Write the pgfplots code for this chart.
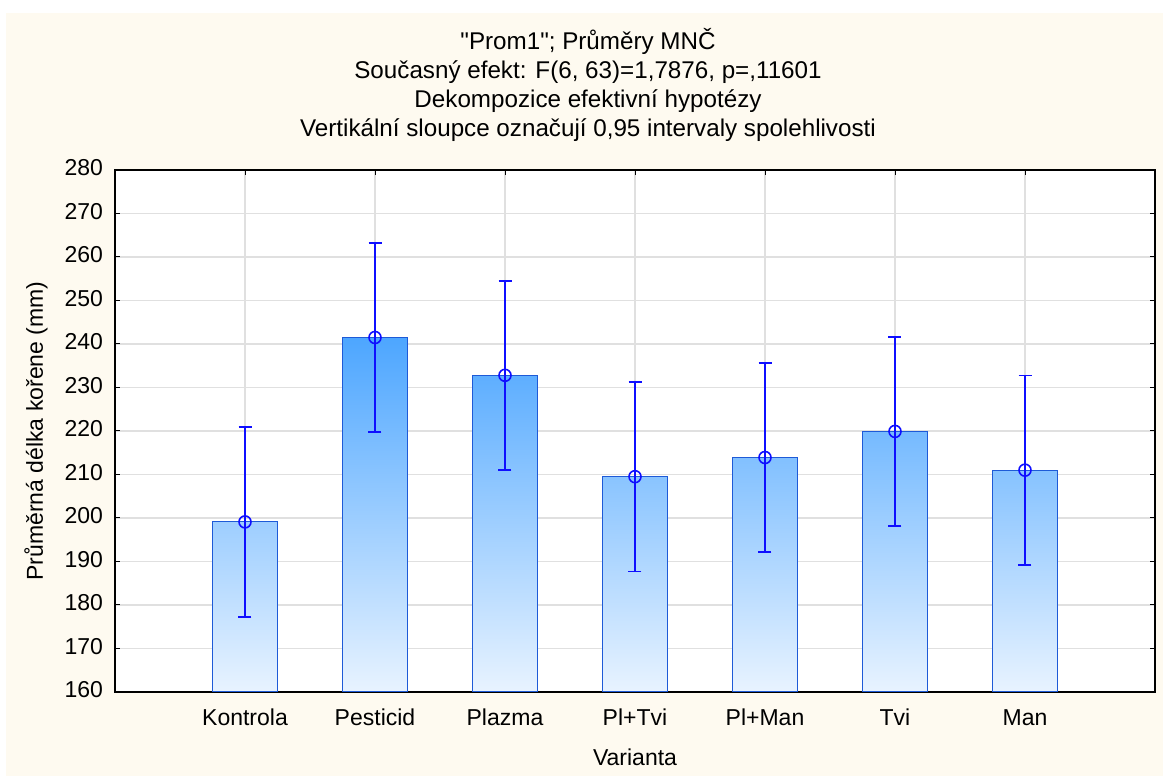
\documentclass[border=0pt]{standalone}
\usepackage{fontspec}
\setmainfont{Liberation Sans}[Ligatures=TeXOff]
\usepackage{pgfplots}
\pgfplotsset{compat=1.18}
\usepackage{pgfplotstable}

\definecolor{paper}{RGB}{254,250,240}
\definecolor{gridgray}{RGB}{224,224,224}
\definecolor{barDark}{RGB}{77,166,255}
\definecolor{barLight}{RGB}{232,243,255}
\definecolor{barEdge}{RGB}{30,90,215}
\definecolor{ciBlue}{RGB}{15,15,255}

% least-squares means and half-widths of the 0.95 confidence intervals
\pgfplotstableread{
x mean ci
0 199.1 21.8
1 241.5 21.8
2 232.8 21.75
3 209.5 21.8
4 213.9 21.75
5 219.9 21.8
6 211.0 21.75
}\lsmeans

% top shade of each bar: share of the dark blue, grows with the bar height
\colorlet{topA}{barDark!48!barLight}
\colorlet{topB}{barDark!100!barLight}
\colorlet{topC}{barDark!89!barLight}
\colorlet{topD}{barDark!61!barLight}
\colorlet{topE}{barDark!66!barLight}
\colorlet{topF}{barDark!74!barLight}
\colorlet{topG}{barDark!63!barLight}

\pgfplotsset{meanbar/.style={draw=barEdge, line width=0.5pt, top color=#1, bottom color=barLight}}

\begin{document}
\begin{tikzpicture}
\fill[white] (0,0) rectangle (581.5pt,388pt);
\fill[paper] (3pt,0) rectangle (581.5pt,381.5pt);
\begin{axis}[
  at={(57.5pt,42pt)}, anchor=south west,
  scale only axis, width=520pt, height=261pt,
  xmin=-1, xmax=7, ymin=160, ymax=280,
  xtick={0,...,6},
  xticklabels={Kontrola,Pesticid,Plazma,Pl+Tvi,Pl+Man,Tvi,Man},
  ytick={160,170,...,280},
  tick align=inside, major tick length=2.5pt,
  tick style={black, line width=0.5pt},
  grid=major, major grid style={gridgray, line width=0.6pt},
  axis line style={black, line width=1pt},
  axis background/.style={fill=white},
  /pgf/number format/assume math mode=true,
  typeset ticklabels with strut,
  tick label style={font=\fontsize{11.5}{14}\selectfont},
  yticklabel style={xshift=-2.5pt},
  xticklabel style={yshift=-3.2pt},
]
\addplot[meanbar=topA] coordinates {(-0.25,160) (-0.25,199.1) (0.25,199.1) (0.25,160)} -- cycle;
\addplot[meanbar=topB] coordinates {(0.75,160) (0.75,241.5) (1.25,241.5) (1.25,160)} -- cycle;
\addplot[meanbar=topC] coordinates {(1.75,160) (1.75,232.8) (2.25,232.8) (2.25,160)} -- cycle;
\addplot[meanbar=topD] coordinates {(2.75,160) (2.75,209.5) (3.25,209.5) (3.25,160)} -- cycle;
\addplot[meanbar=topE] coordinates {(3.75,160) (3.75,213.9) (4.25,213.9) (4.25,160)} -- cycle;
\addplot[meanbar=topF] coordinates {(4.75,160) (4.75,219.9) (5.25,219.9) (5.25,160)} -- cycle;
\addplot[meanbar=topG] coordinates {(5.75,160) (5.75,211.0) (6.25,211.0) (6.25,160)} -- cycle;
\addplot[ciBlue, only marks, mark=o, mark size=3pt, mark options={line width=0.8pt},
  error bars/.cd, y dir=both, y explicit,
  error bar style={ciBlue, line width=0.9pt},
  error mark options={ciBlue, line width=0.9pt, mark size=3.25pt, rotate=90}]
  table[x=x, y=mean, y error=ci] {\lsmeans};
\end{axis}
\node[font=\fontsize{12.1}{14.5}\selectfont, align=center] at (294pt,345.5pt)
  {"Prom1"; Průměry MNČ\\Současný efekt: F(6, 63)=1,7876, p=,11601\\Dekompozice efektivní hypotézy\\Vertikální sloupce označují 0,95 intervaly spolehlivosti};
\node[font=\fontsize{11.5}{14}\selectfont] at (317.5pt,9.5pt) {Varianta};
\node[font=\fontsize{11.5}{14}\selectfont, rotate=90] at (18pt,172.5pt) {Průměrná délka kořene (mm)};
\end{tikzpicture}
\end{document}
